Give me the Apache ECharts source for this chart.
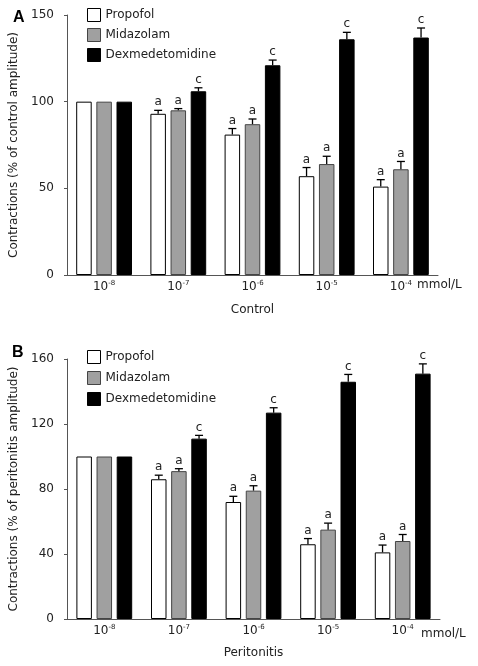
<!DOCTYPE html>
<html><head><meta charset="utf-8">
<script src="https://cdn.jsdelivr.net/npm/echarts@6/dist/echarts.min.js"></script>
<style>html,body{margin:0;padding:0;background:#fff}#c{width:478px;height:666px}</style>
</head><body><div id="c"></div>
<script>
// ---- data ----
const categories = ['10^-8', '10^-7', '10^-6', '10^-5', '10^-4'];
const seriesNames = ['Propofol', 'Midazolam', 'Dexmedetomidine'];

const propofolA = [100, 93, 81, 57, 51];
const propofolAErr = [0, 2, 3.5, 5, 4];
const midazolamA = [100, 95, 87, 64, 61];
const midazolamAErr = [0, 1, 3, 4.5, 4.5];
const dexA = [100, 106, 121, 136, 137];
const dexAErr = [0, 2, 3, 4, 5.5];

const propofolB = [100, 86, 72, 46, 41];
const propofolBErr = [0, 2.5, 3.5, 3.5, 4.5];
const midazolamB = [100, 91, 79, 55, 48];
const midazolamBErr = [0, 1.5, 3, 4, 4];
const dexB = [100, 111, 127, 146, 151];
const dexBErr = [0, 2, 3, 4.5, 6];

const sigPropofol = ['', 'a', 'a', 'a', 'a'];
const sigMidazolam = ['', 'a', 'a', 'a', 'a'];
const sigDex = ['', 'c', 'c', 'c', 'c'];

const yTicksA = [0, 50, 100, 150];
const yTicksB = [0, 40, 80, 120, 160];

// ---- chart ----
const FONT = '"DejaVu Sans", Verdana, sans-serif';
const colors = ['#ffffff', '#a0a0a0', '#000000'];
const borders = ['#000000', '#444444', '#000000'];
const BW = 15.5, GAP = 0.3;
const step = BW * (1 + GAP);
const offsets = [-step, 0, step];

function errRender(offset, sig) {
  return function (params, api) {
    const i = api.value(0), v = api.value(1), e = api.value(2);
    const top = api.coord([i, v + e]);
    const base = api.coord([i, v]);
    const x = top[0] + offset;
    const children = [];
    if (e > 0) {
      children.push({ type: 'line', shape: { x1: x, y1: base[1], x2: x, y2: top[1] }, style: { stroke: '#000', lineWidth: 1.3 } });
      children.push({ type: 'line', shape: { x1: x - 4, y1: top[1], x2: x + 4, y2: top[1] }, style: { stroke: '#000', lineWidth: 1.3 } });
    }
    const s = sig[params.dataIndex];
    if (s) {
      children.push({ type: 'text', x: x, y: top[1] - 2,
        style: { text: s, fill: '#222', font: '12px ' + FONT, align: 'center', verticalAlign: 'bottom' } });
    }
    return { type: 'group', children: children };
  };
}

function xAxis(gridIndex, name, gap) {
  return {
    type: 'category', gridIndex: gridIndex, data: categories,
    name: name, nameLocation: 'middle', nameGap: gap,
    nameTextStyle: { fontFamily: FONT, fontSize: 12, color: '#222' },
    axisLine: { lineStyle: { color: '#555', width: 1 } },
    axisTick: { show: true, alignWithLabel: true, inside: true, length: 3, lineStyle: { color: '#555' } },
    axisLabel: {
      interval: 0, hideOverlap: false,
      margin: 5, color: '#222', fontFamily: FONT, fontSize: 12,
      formatter: function (v) { const p = v.split('^'); return '{b|' + p[0] + '}{s|' + p[1] + '}'; },
      rich: {
        b: { fontFamily: FONT, fontSize: 12, lineHeight: 14, color: '#222' },
        s: { fontFamily: FONT, fontSize: 7, verticalAlign: 'top', color: '#222' }
      }
    },
    splitLine: { show: false }
  };
}

function yAxis(gridIndex, ticks, name) {
  return {
    type: 'value', gridIndex: gridIndex,
    min: ticks[0], max: ticks[ticks.length - 1], interval: ticks[1] - ticks[0],
    name: name, nameLocation: 'middle', nameGap: 45,
    nameTextStyle: { fontFamily: FONT, fontSize: 12, color: '#222' },
    axisLine: { show: true, lineStyle: { color: '#555', width: 1 } },
    axisTick: { show: true, length: 3, lineStyle: { color: '#555' } },
    axisLabel: { margin: 13, color: '#222', fontFamily: FONT, fontSize: 12 },
    splitLine: { show: false }
  };
}

const dataA = [propofolA, midazolamA, dexA];
const errA = [propofolAErr, midazolamAErr, dexAErr];
const dataB = [propofolB, midazolamB, dexB];
const errB = [propofolBErr, midazolamBErr, dexBErr];
const sigs = [sigPropofol, sigMidazolam, sigDex];

const series = [];
[[dataA, errA, 0], [dataB, errB, 1]].forEach(function (panel) {
  const d = panel[0], er = panel[1], g = panel[2];
  seriesNames.forEach(function (n, k) {
    series.push({
      name: n, type: 'bar', xAxisIndex: g, yAxisIndex: g,
      data: d[k], barWidth: BW, barGap: (GAP * 100) + '%',
      itemStyle: { color: colors[k], borderColor: borders[k], borderWidth: 1 },
      emphasis: { disabled: true }, animation: false
    });
  });
  seriesNames.forEach(function (n, k) {
    series.push({
      name: n + ' error', type: 'custom', xAxisIndex: g, yAxisIndex: g, z: 5,
      renderItem: errRender(offsets[k], sigs[k]),
      data: d[k].map(function (v, i) { return [i, v, er[k][i]]; }),
      animation: false, silent: true
    });
  });
});

const legendBase = {
  orient: 'vertical', left: 82, itemWidth: 13, itemHeight: 13, itemGap: 6, icon: 'rect',
  data: seriesNames, selectedMode: false,
  itemStyle: { borderWidth: 1 },
  textStyle: { fontFamily: FONT, fontSize: 12, color: '#222' }
};

const chart = echarts.init(document.getElementById('c'), null, { renderer: 'canvas' });
chart.setOption({
  animation: false,
  backgroundColor: '#fff',
  title: [
    { text: 'A', left: 8, top: 5, textStyle: { fontFamily: '"Liberation Sans", Arial', fontSize: 16, fontWeight: 'bold', color: '#000' } },
    { text: 'B', left: 7, top: 340, textStyle: { fontFamily: '"Liberation Sans", Arial', fontSize: 16, fontWeight: 'bold', color: '#000' } }
  ],
  legend: [
    Object.assign({}, legendBase, { top: 3 }),
    Object.assign({}, legendBase, { top: 345, itemGap: 7 })
  ],
  grid: [
    { left: 67, right: 40, top: 15, height: 260, outerBoundsMode: 'none' },
    { left: 67, right: 38, top: 359, height: 260, outerBoundsMode: 'none' }
  ],
  xAxis: [xAxis(0, 'Control', 29), xAxis(1, 'Peritonitis', 28)],
  yAxis: [yAxis(0, yTicksA, 'Contractions (% of control amplitude)'),
          yAxis(1, yTicksB, 'Contractions (% of peritonitis amplitude)')],
  graphic: [
    { type: 'text', left: 417, top: 279, style: { text: 'mmol/L', font: '12px ' + FONT, fill: '#222' } },
    { type: 'text', left: 421, top: 628, style: { text: 'mmol/L', font: '12px ' + FONT, fill: '#222' } }
  ],
  series: series
});
</script>
</body></html>
